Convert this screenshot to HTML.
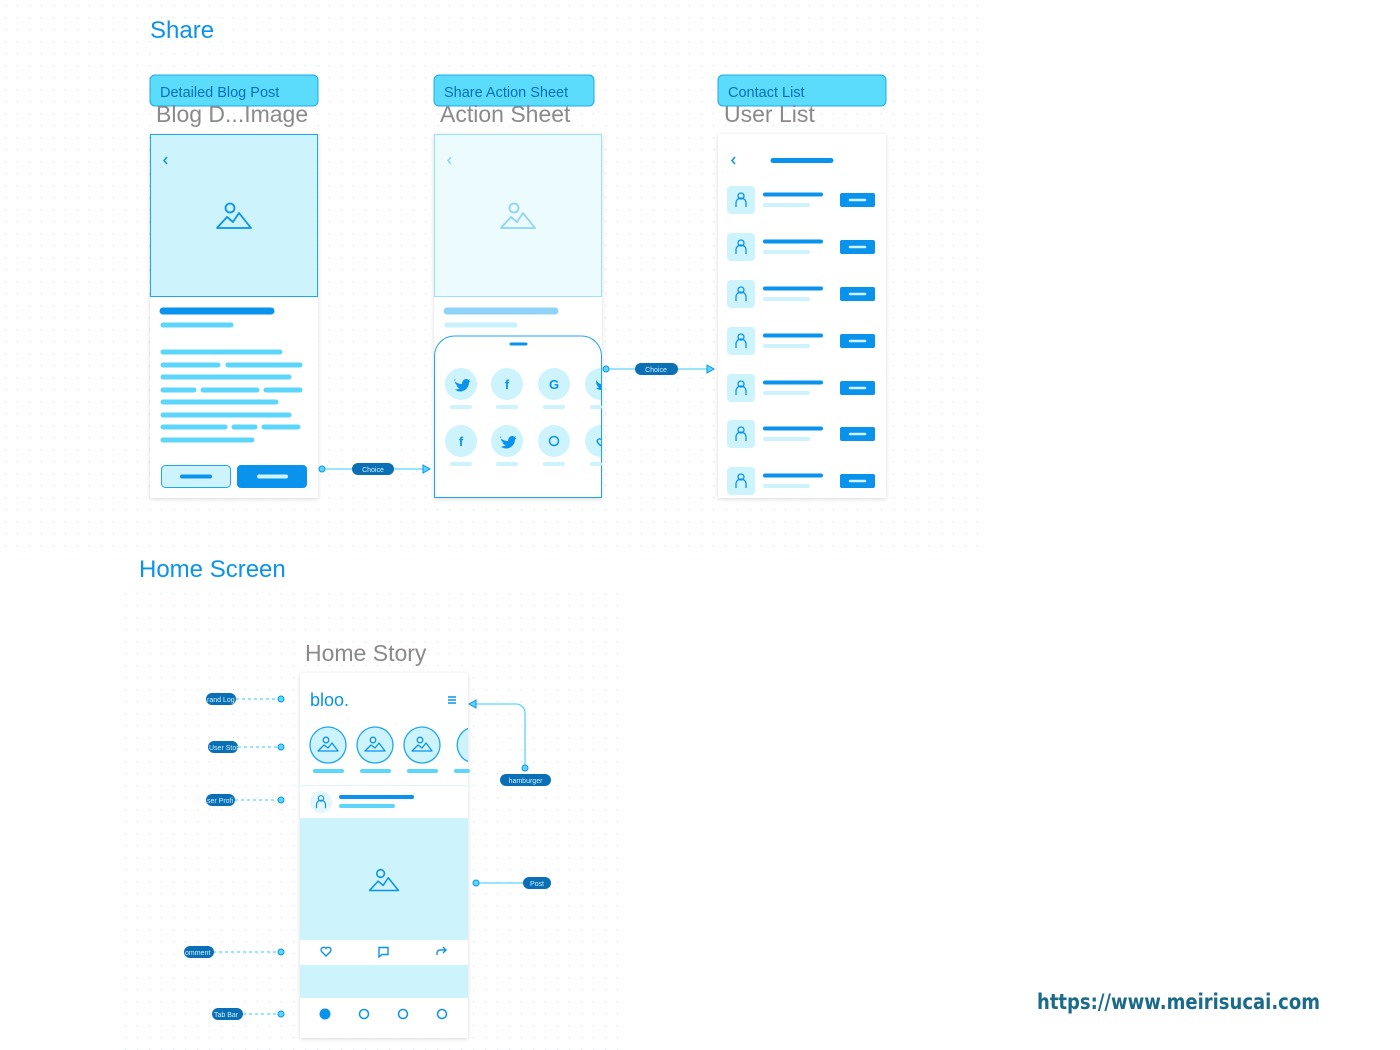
<!DOCTYPE html>
<html><head><meta charset="utf-8"><style>
html,body{margin:0;padding:0;background:#fff;width:1400px;height:1050px;overflow:hidden}
svg{display:block}
text{font-family:"Liberation Sans",sans-serif}
</style></head><body>
<svg width="1400" height="1050" viewBox="0 0 1400 1050" xmlns="http://www.w3.org/2000/svg">
<defs>
<pattern id="dots" width="12" height="12" patternUnits="userSpaceOnUse"><rect x="5" y="5" width="1.3" height="1.3" fill="#d6e8f3"/></pattern>
<filter id="sh" x="-10%" y="-10%" width="120%" height="120%"><feDropShadow dx="0" dy="1" stdDeviation="2" flood-color="#000" flood-opacity="0.15"/></filter>
<g id="img" fill="none" stroke-width="1.8" stroke-linejoin="round"><circle cx="-4" cy="-10" r="4.5"/><path d="M-17,10 L-7,-1 L-1,4 L5,-5 L17,10 Z"/></g>
<g id="simg" fill="none" stroke-width="1.3" stroke-linejoin="round"><circle cx="-2" cy="-6" r="2.8"/><path d="M-10,5 L-4,-1 L0,2 L4,-3 L10,5 Z"/></g>
<g id="per" fill="none" stroke="#0a93ec" stroke-width="1.3"><circle cx="0" cy="-4" r="3"/><path d="M-5,7 V3 a5,5 0 0 1 10,0 V7"/></g>
<path id="bird" d="M-6,-4 c2,3 5,4 8,4 c0,-3 2,-5 4,-5 c1,0 2,0 2,1 l2,-1 l-1,2 l1.5,0 l-1.5,1.5 c0,5 -4,9 -9,9 c-2,0 -4,-1 -5,-2 c2,0 3.5,-0.5 5,-1.5 c-2,0 -3,-1 -3.5,-2.5 l1.5,0 c-2,-0.5 -3,-2 -3,-3.5 l1.5,0.5 c-1.5,-1 -2,-2.5 -1,-3.5 z" fill="#0a93ec"/>
</defs>
<rect x="0" y="0" width="985" height="555" fill="url(#dots)"/>
<rect x="115" y="590" width="505" height="460" fill="url(#dots)"/>

<text x="150" y="38" font-size="24" fill="#0a93ec">Share</text>
<text x="139" y="577" font-size="24" fill="#0a93ec">Home Screen</text>

<g font-size="14.5" fill="#0a6fb5">
<rect x="150" y="75" width="168" height="31" rx="5" fill="#5cdcfd" stroke="#1ea7f0"/><text x="160" y="97">Detailed Blog Post</text>
<rect x="434" y="75" width="160" height="31" rx="5" fill="#5cdcfd" stroke="#1ea7f0"/><text x="444" y="97">Share Action Sheet</text>
<rect x="718" y="75" width="168" height="31" rx="5" fill="#5cdcfd" stroke="#1ea7f0"/><text x="728" y="97">Contact List</text>
</g>
<g font-size="23" fill="#8a8a8a">
<text x="156" y="122">Blog D...Image</text>
<text x="440" y="122">Action Sheet</text>
<text x="724" y="122">User List</text>
<text x="305" y="661">Home Story</text>
</g>

<rect x="150" y="134" width="168" height="364" fill="#fff" filter="url(#sh)"/>
<rect x="150.5" y="134.5" width="167" height="162" fill="#cdf3fd" stroke="#1ea7f0"/>
<path d="M167,157 l-3,3.5 l3,3.5" fill="none" stroke="#0a93ec" stroke-width="1.5"/>
<use href="#img" x="234" y="218" stroke="#0a93ec"/>
<g stroke-linecap="round" stroke-width="5">
<line x1="163" y1="311" x2="271" y2="311" stroke="#0a93ec" stroke-width="7"/>
<g stroke="#5cd6fb">
<line x1="163" y1="325" x2="231" y2="325"/>
<line x1="163" y1="352" x2="280" y2="352"/>
<line x1="163" y1="365" x2="218" y2="365"/><line x1="228" y1="365" x2="300" y2="365"/>
<line x1="163" y1="377" x2="289" y2="377"/>
<line x1="163" y1="390" x2="194" y2="390"/><line x1="203" y1="390" x2="257" y2="390"/><line x1="266" y1="390" x2="300" y2="390"/>
<line x1="163" y1="402" x2="276" y2="402"/>
<line x1="163" y1="415" x2="289" y2="415"/>
<line x1="163" y1="427" x2="225" y2="427"/><line x1="234" y1="427" x2="255" y2="427"/><line x1="264" y1="427" x2="298" y2="427"/>
<line x1="163" y1="440" x2="252" y2="440"/>
</g></g>
<rect x="161.5" y="465.5" width="69" height="22" rx="4" fill="#cdf3fd" stroke="#1ea7f0"/>
<line x1="182" y1="476.5" x2="210" y2="476.5" stroke="#0a93ec" stroke-width="4" stroke-linecap="round"/>
<rect x="237" y="465" width="70" height="23" rx="4" fill="#0a93ec"/>
<line x1="259" y1="476.5" x2="286" y2="476.5" stroke="#cdf3fd" stroke-width="4" stroke-linecap="round"/>

<line x1="322" y1="469" x2="426" y2="469" stroke="#5cd6fb" stroke-width="1.3"/>
<circle cx="322" cy="469" r="3" fill="#5cd6fb" stroke="#0a93ec"/>
<path d="M423,465 L430,469 L423,473 Z" fill="#5cd6fb" stroke="#0a93ec"/>
<rect x="352" y="463" width="42" height="12" rx="6" fill="#0a6fb5"/>
<text x="373" y="472" font-size="7" fill="#cdf3fd" text-anchor="middle">Choice</text>

<rect x="434" y="134" width="168" height="364" fill="#fff" filter="url(#sh)"/>
<rect x="434.5" y="134.5" width="167" height="162" fill="#ebfbfe" stroke="#9ae3fb"/>
<path d="M451,157 l-3,3.5 l3,3.5" fill="none" stroke="#8fd4f7" stroke-width="1.5"/>
<use href="#img" x="518" y="218" stroke="#8fd4f7"/>
<line x1="447" y1="311" x2="555" y2="311" stroke="#8fd4f7" stroke-width="7" stroke-linecap="round"/>
<line x1="447" y1="325" x2="515" y2="325" stroke="#c7f1fd" stroke-width="5" stroke-linecap="round"/>
<path d="M434.5,497.5 V356 a20,20 0 0 1 20,-20 H581.5 a20,20 0 0 1 20,20 V497.5 Z" fill="#fff" stroke="#1ea7f0"/>
<line x1="511" y1="344" x2="526" y2="344" stroke="#0a93ec" stroke-width="3" stroke-linecap="round"/>
<g fill="#cdf3fd">
<circle cx="461" cy="384" r="16"/><circle cx="507" cy="384" r="16"/><circle cx="554" cy="384" r="16"/>
<circle cx="461" cy="441" r="16"/><circle cx="507" cy="441" r="16"/><circle cx="554" cy="441" r="16"/>
<path d="M601,368 a16,16 0 0 0 0,32 Z"/><path d="M601,425 a16,16 0 0 0 0,32 Z"/>
</g>
<g stroke="#cdf3fd" stroke-width="4" stroke-linecap="round">
<line x1="452" y1="407" x2="470" y2="407"/><line x1="498" y1="407" x2="516" y2="407"/><line x1="545" y1="407" x2="563" y2="407"/><line x1="592" y1="407" x2="600" y2="407"/>
<line x1="452" y1="464" x2="470" y2="464"/><line x1="498" y1="464" x2="516" y2="464"/><line x1="545" y1="464" x2="563" y2="464"/><line x1="592" y1="464" x2="600" y2="464"/>
</g>
<g font-size="13" font-weight="bold" fill="#0a93ec" text-anchor="middle">
<text x="507" y="389">f</text><text x="554" y="389">G</text>
<text x="461" y="446">f</text>
</g>
<use href="#bird" x="460" y="384"/>
<use href="#bird" x="506" y="441"/>
<path d="M596,380 c2,3 4,4 5,4 v6 c-2,0 -4,-1 -5,-2 c1,0 2,0 3,-1 c-1,0 -2,-1 -2,-2 c-1,-1 -1,-3 -1,-5z" fill="#0a93ec"/>
<path d="M601,446 l-3,-3 a2.3,2.3 0 0 1 3,-3.5" fill="none" stroke="#0a93ec" stroke-width="1.4"/>
<circle cx="554" cy="441" r="4.5" fill="none" stroke="#0a93ec" stroke-width="1.5"/>

<line x1="606" y1="369" x2="710" y2="369" stroke="#5cd6fb" stroke-width="1.3"/>
<circle cx="606" cy="369" r="3" fill="#5cd6fb" stroke="#0a93ec"/>
<path d="M707,365 L714,369 L707,373 Z" fill="#5cd6fb" stroke="#0a93ec"/>
<rect x="635" y="363" width="43" height="12" rx="6" fill="#0a6fb5"/>
<text x="656" y="372" font-size="7" fill="#cdf3fd" text-anchor="middle">Choice</text>

<rect x="718" y="134" width="168" height="364" fill="#fff" filter="url(#sh)"/>
<path d="M735,157 l-3,3.5 l3,3.5" fill="none" stroke="#0a93ec" stroke-width="1.5"/>
<line x1="773" y1="160.5" x2="831" y2="160.5" stroke="#0a93ec" stroke-width="5" stroke-linecap="round"/>
<g id="row">
<rect x="727" y="186" width="28" height="28" rx="4" fill="#cdf3fd"/>
<use href="#per" x="741" y="200"/>
<line x1="765" y1="194.5" x2="821" y2="194.5" stroke="#0a93ec" stroke-width="4" stroke-linecap="round"/>
<line x1="765" y1="205" x2="808" y2="205" stroke="#cdf3fd" stroke-width="4" stroke-linecap="round"/>
<rect x="840" y="193" width="35" height="14" rx="2" fill="#0a93ec"/>
<line x1="850" y1="200" x2="865" y2="200" stroke="#cdf3fd" stroke-width="2.5" stroke-linecap="round"/>
</g>
<use href="#row" y="47"/><use href="#row" y="94"/><use href="#row" y="141"/><use href="#row" y="188"/><use href="#row" y="234"/><use href="#row" y="281"/>

<rect x="300" y="673" width="168" height="365" fill="#fff" filter="url(#sh)"/>
<text x="310" y="706" font-size="18" fill="#0a93ec">bloo.</text>
<g stroke="#0a93ec" stroke-width="1.5"><line x1="448" y1="697" x2="456" y2="697"/><line x1="448" y1="700" x2="456" y2="700"/><line x1="448" y1="703" x2="456" y2="703"/></g>
<g fill="#cdf3fd" stroke="#1ea7f0" stroke-width="1.3">
<circle cx="328" cy="745" r="18"/><circle cx="375" cy="745" r="18"/><circle cx="422" cy="745" r="18"/>
<path d="M468,728.5 a18,18 0 0 0 0,33"/>
</g>
<use href="#simg" x="328" y="746" stroke="#0a93ec"/><use href="#simg" x="375" y="746" stroke="#0a93ec"/><use href="#simg" x="422" y="746" stroke="#0a93ec"/>
<g stroke="#5cd6fb" stroke-width="4" stroke-linecap="round">
<line x1="315" y1="771" x2="342" y2="771"/><line x1="362" y1="771" x2="389" y2="771"/><line x1="409" y1="771" x2="436" y2="771"/><line x1="456" y1="771" x2="468" y2="771"/>
</g>
<line x1="300" y1="785.5" x2="468" y2="785.5" stroke="#e2f4fb"/>
<circle cx="321" cy="802" r="11" fill="#e3f7fe"/>
<use href="#per" x="321" y="802" transform="translate(32.1,80.2) scale(0.9)"/>
<line x1="341" y1="797" x2="412" y2="797" stroke="#0a93ec" stroke-width="4" stroke-linecap="round"/>
<line x1="341" y1="806" x2="393" y2="806" stroke="#5cd6fb" stroke-width="4" stroke-linecap="round"/>
<rect x="300" y="818" width="168" height="122" fill="#cdf3fd"/>
<use href="#img" x="384" y="882" stroke="#0a93ec" transform="translate(384,882) scale(0.85) translate(-384,-882)"/>
<path d="M326,956 l-4.5,-4.5 a2.6,2.6 0 0 1 4.5,-3 a2.6,2.6 0 0 1 4.5,3 z" fill="none" stroke="#0a93ec" stroke-width="1.4"/>
<path d="M379,947.5 h9 v7 h-6 l-3,2.5 z" fill="none" stroke="#0a93ec" stroke-width="1.4"/>
<path d="M437,955 v-2 a3,3 0 0 1 3,-3 h6 M443,947 l3,3 l-3,3" fill="none" stroke="#0a93ec" stroke-width="1.4"/>
<rect x="300" y="965" width="168" height="33" fill="#cdf3fd"/>
<circle cx="325" cy="1014" r="5.5" fill="#0a93ec"/>
<g fill="none" stroke="#0a93ec" stroke-width="1.5"><circle cx="364" cy="1014" r="4.5"/><circle cx="403" cy="1014" r="4.5"/><circle cx="442" cy="1014" r="4.5"/></g>

<g stroke="#5cd6fb" stroke-width="1.3" stroke-dasharray="3,3">
<line x1="236" y1="699" x2="281" y2="699"/><line x1="238" y1="747" x2="281" y2="747"/><line x1="235" y1="800" x2="281" y2="800"/><line x1="213" y1="952" x2="281" y2="952"/><line x1="243" y1="1014" x2="281" y2="1014"/>
</g>
<g fill="#5cd6fb" stroke="#0a93ec"><circle cx="281" cy="699" r="3"/><circle cx="281" cy="747" r="3"/><circle cx="281" cy="800" r="3"/><circle cx="281" cy="952" r="3"/><circle cx="281" cy="1014" r="3"/></g>
<g fill="#0a6fb5"><rect x="206" y="693" width="30" height="12" rx="6"/><rect x="208" y="741" width="30" height="12" rx="6"/><rect x="206" y="794" width="29" height="12" rx="6"/><rect x="184" y="946" width="30" height="12" rx="6"/><rect x="212" y="1008" width="31" height="12" rx="6"/></g>
<g font-size="7" fill="#cdf3fd">
<text x="207" y="702">rand Log</text><text x="209" y="750">User Stor</text><text x="207" y="803">ser Profi</text><text x="185" y="955">omment</text><text x="214" y="1017">Tab Bar</text>
</g>

<path d="M525,768 V713 a9,9 0 0 0 -9,-9 H472" fill="none" stroke="#5cd6fb" stroke-width="1.3"/>
<path d="M476,700 L469,704 L476,708 Z" fill="#5cd6fb" stroke="#0a93ec"/>
<circle cx="525" cy="768" r="3" fill="#5cd6fb" stroke="#0a93ec"/>
<rect x="500" y="774" width="51" height="12" rx="6" fill="#0a6fb5"/>
<text x="525.5" y="783" font-size="7" fill="#cdf3fd" text-anchor="middle">hamburger</text>
<line x1="476" y1="883" x2="525" y2="883" stroke="#5cd6fb" stroke-width="1.3"/>
<circle cx="476" cy="883" r="3" fill="#5cd6fb" stroke="#0a93ec"/>
<rect x="523" y="877" width="28" height="12" rx="6" fill="#0a6fb5"/>
<text x="537" y="886" font-size="7" fill="#cdf3fd" text-anchor="middle">Post</text>

<text x="1037" y="1009" font-size="21" font-weight="bold" fill="#1a6a8a" textLength="283" lengthAdjust="spacingAndGlyphs" style="font-family:'DejaVu Sans',sans-serif">https://www.meirisucai.com</text>
</svg>
</body></html>
